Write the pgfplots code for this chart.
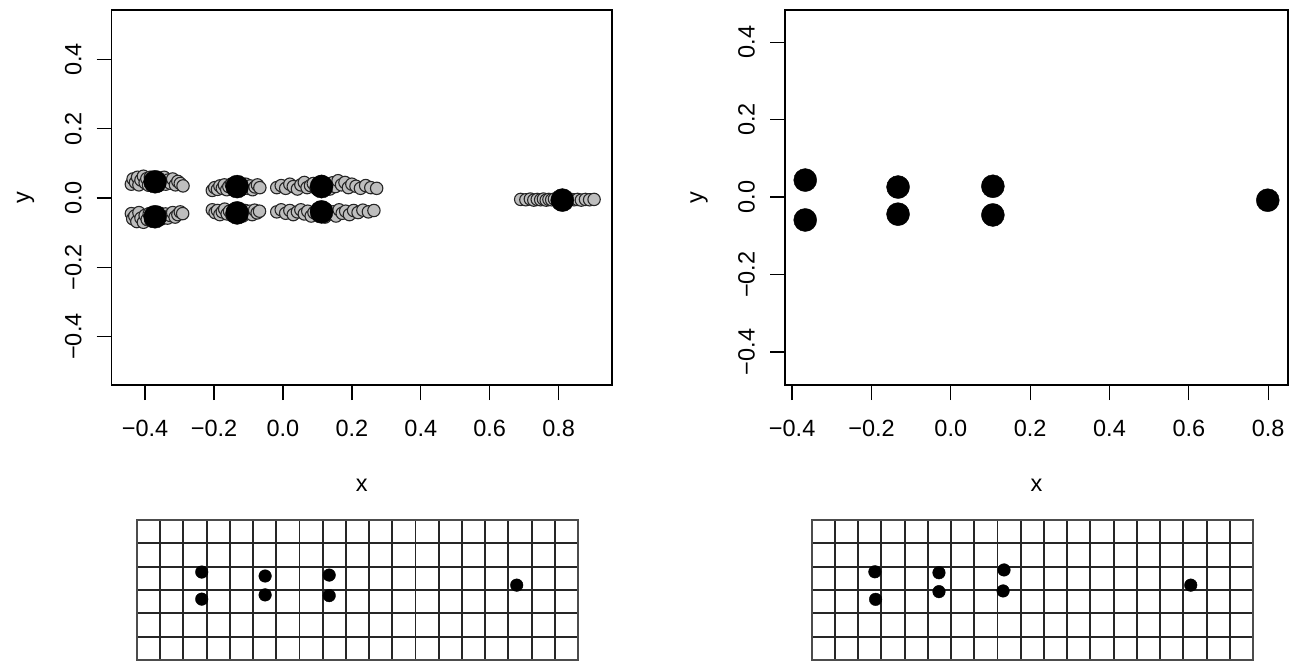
\documentclass[border=0pt]{standalone}
\usepackage{pgfplots}
\pgfplotsset{compat=1.18}
\usepackage{fontspec}
\setmainfont{Liberation Sans}
\definecolor{ptgrey}{RGB}{190,190,190}
\pgfplotsset{
  rstyle/.style={
    scale only axis,
    axis line style={black, line width=1.3pt},
    tick style={black, line width=1.3pt},
    tick align=outside,
    major tick length=15pt,
    xtick pos=bottom, ytick pos=left,
    xtick={-0.4,-0.2,0,0.2,0.4,0.6,0.8},
    xticklabels={−0.4,−0.2,0.0,0.2,0.4,0.6,0.8},
    ytick={-0.4,-0.2,0,0.2,0.4},
    yticklabels={−0.4,−0.2,0.0,0.2,0.4},
    ticklabel style={font=\fontsize{23.5}{28}\selectfont},
    xticklabel style={anchor=north, inner sep=0pt},
    yticklabel style={rotate=90, anchor=south, inner sep=0pt},
    xticklabel shift=20pt,
    yticklabel shift=15pt,
    every axis x label/.style={at={(axis description cs:0.5,0)}, anchor=center, yshift=-100pt, font=\fontsize{23.5}{28}\selectfont},
    every axis y label/.style={at={(axis description cs:0,0.5)}, xshift=-86pt, rotate=90, anchor=center, font=\fontsize{23.5}{28}\selectfont},
    xlabel={x}, ylabel={y},
    clip=false,
  },
  gridstyle/.style={
    scale only axis,
    xmin=0, xmax=19, ymin=0, ymax=6,
    xtick={0,...,19}, ytick={0,...,6},
    xticklabels={}, yticklabels={},
    major tick length=0pt,
    grid=major,
    major grid style={black!85, line width=1.9pt},
    axis line style={black!70, line width=1.9pt},
  },
  greypts/.style={only marks, mark=*, mark size=6.2pt, mark options={fill=ptgrey, draw=black!85, line width=1.1pt}},
  bigpts/.style={only marks, mark=*, mark size=11.5pt, mark options={fill=black, draw=black}},
  gridpts/.style={only marks, mark=*, mark size=6.3pt, mark options={fill=black, draw=black}},
}
\begin{document}
\begin{tikzpicture}
\path[use as bounding box] (0,0) rectangle (1298pt,-662pt);
% ---------------- top left
\begin{axis}[rstyle, at={(111.7pt,-385pt)}, anchor=south west,
  width=500.3pt, height=375pt,
  xmin=-0.497, xmax=0.955, ymin=-0.540, ymax=0.543]
\addplot[greypts] coordinates {
(-0.440,0.040)(-0.435,0.055)(-0.428,0.045)(-0.422,0.060)(-0.418,0.038)(-0.412,0.052)(-0.405,0.063)(-0.400,0.044)(-0.395,0.056)(-0.390,0.037)(-0.385,0.060)(-0.380,0.048)(-0.375,0.041)(-0.370,0.058)(-0.365,0.050)(-0.360,0.036)(-0.355,0.054)(-0.350,0.045)(-0.345,0.060)(-0.340,0.040)(-0.333,0.052)(-0.327,0.043)(-0.320,0.055)(-0.312,0.038)(-0.305,0.048)(-0.298,0.042)(-0.290,0.035)
(-0.440,-0.045)(-0.436,-0.060)(-0.430,-0.052)(-0.424,-0.068)(-0.418,-0.042)(-0.412,-0.058)(-0.405,-0.070)(-0.400,-0.050)(-0.394,-0.062)(-0.388,-0.045)(-0.383,-0.066)(-0.378,-0.055)(-0.372,-0.048)(-0.367,-0.064)(-0.362,-0.058)(-0.357,-0.044)(-0.352,-0.060)(-0.347,-0.052)(-0.341,-0.046)(-0.335,-0.058)(-0.328,-0.050)(-0.320,-0.042)(-0.313,-0.055)(-0.305,-0.048)(-0.298,-0.040)(-0.291,-0.045)
(-0.205,0.022)(-0.198,0.030)(-0.190,0.025)(-0.183,0.035)(-0.176,0.028)(-0.170,0.038)(-0.163,0.024)(-0.157,0.033)(-0.150,0.040)(-0.144,0.027)(-0.138,0.036)(-0.132,0.030)(-0.126,0.038)(-0.120,0.025)(-0.114,0.034)(-0.108,0.040)(-0.101,0.028)(-0.095,0.035)(-0.088,0.024)(-0.081,0.032)(-0.074,0.038)(-0.067,0.030)
(-0.205,-0.034)(-0.197,-0.042)(-0.190,-0.036)(-0.183,-0.048)(-0.176,-0.040)(-0.169,-0.032)(-0.162,-0.046)(-0.155,-0.038)(-0.148,-0.050)(-0.141,-0.042)(-0.135,-0.034)(-0.129,-0.047)(-0.123,-0.040)(-0.117,-0.052)(-0.110,-0.036)(-0.103,-0.045)(-0.096,-0.038)(-0.089,-0.048)(-0.082,-0.035)(-0.075,-0.043)(-0.068,-0.038)
(-0.018,0.030)(-0.005,0.036)(0.008,0.028)(0.020,0.040)(0.030,0.033)(0.042,0.026)(0.052,0.038)(0.062,0.045)(0.070,0.030)(0.080,0.036)(0.088,0.042)(0.096,0.028)(0.104,0.034)(0.112,0.048)(0.120,0.030)(0.128,0.040)(0.136,0.026)(0.144,0.044)(0.152,0.033)(0.160,0.050)(0.170,0.038)(0.180,0.045)(0.190,0.030)(0.200,0.040)(0.212,0.034)(0.225,0.028)(0.240,0.036)(0.255,0.030)(0.272,0.028)
(-0.018,-0.040)(-0.005,-0.034)(0.008,-0.044)(0.020,-0.036)(0.030,-0.048)(0.042,-0.040)(0.052,-0.034)(0.062,-0.046)(0.072,-0.038)(0.082,-0.052)(0.090,-0.042)(0.098,-0.035)(0.106,-0.048)(0.114,-0.040)(0.122,-0.055)(0.130,-0.036)(0.138,-0.046)(0.146,-0.040)(0.154,-0.052)(0.163,-0.034)(0.172,-0.044)(0.182,-0.038)(0.193,-0.048)(0.205,-0.036)(0.218,-0.042)(0.232,-0.035)(0.248,-0.040)(0.264,-0.036)
(0.690,-0.004)(0.705,-0.005)(0.718,-0.003)(0.728,-0.006)(0.738,-0.004)(0.748,-0.005)(0.756,-0.003)(0.764,-0.006)(0.772,-0.004)(0.780,-0.005)(0.788,-0.003)(0.796,-0.006)(0.804,-0.004)(0.812,-0.005)(0.820,-0.003)(0.828,-0.006)(0.836,-0.004)(0.845,-0.005)(0.855,-0.004)(0.866,-0.006)(0.878,-0.004)(0.890,-0.005)(0.903,-0.004)
};
\addplot[bigpts] coordinates {
(-0.371,0.047)(-0.371,-0.054)(-0.133,0.033)(-0.133,-0.043)(0.112,0.033)(0.112,-0.040)(0.811,-0.006)
};
\end{axis}
% ---------------- top right
\begin{axis}[rstyle, at={(785pt,-385pt)}, anchor=south west,
  width=503pt, height=375pt,
  xmin=-0.418, xmax=0.850, ymin=-0.485, ymax=0.483]
\addplot[bigpts] coordinates {
(-0.367,0.044)(-0.367,-0.059)(-0.133,0.026)(-0.133,-0.044)(0.106,0.028)(0.106,-0.046)(0.799,-0.008)
};
\end{axis}
% ---------------- bottom left grid
\begin{axis}[gridstyle, at={(137pt,-660pt)}, anchor=south west, width=441pt, height=140pt]
\addplot[gridpts] coordinates {
(2.79,3.77)(2.79,2.61)(5.52,3.60)(5.52,2.79)(8.28,3.64)(8.28,2.76)(16.36,3.21)
};
\end{axis}
% ---------------- bottom right grid
\begin{axis}[gridstyle, at={(811.7pt,-660pt)}, anchor=south west, width=441.3pt, height=140pt]
\addplot[gridpts] coordinates {
(2.72,3.78)(2.75,2.60)(5.48,3.74)(5.48,2.93)(8.28,3.86)(8.24,2.96)(16.32,3.21)
};
\end{axis}
\end{tikzpicture}
\end{document}
